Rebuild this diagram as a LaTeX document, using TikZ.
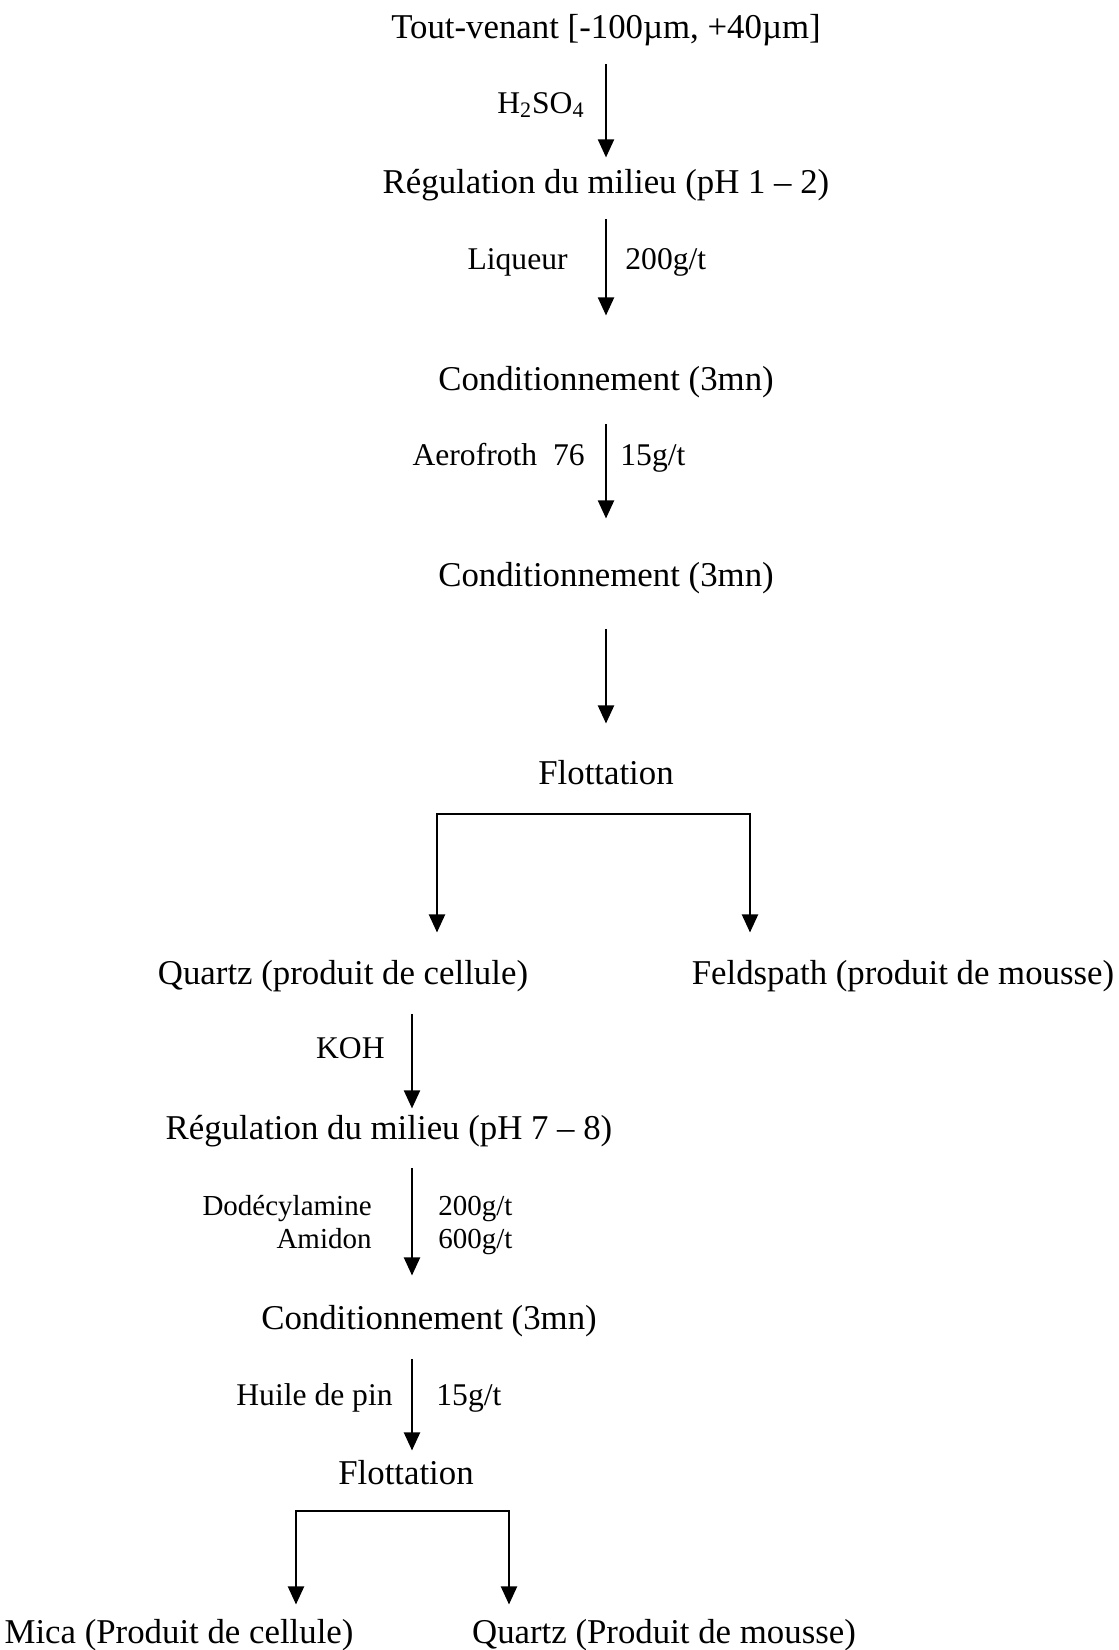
\documentclass[tikz,border=0pt]{standalone}
\usepackage{fontspec}
\setmainfont{Liberation Serif}
\usetikzlibrary{arrows.meta}

\begin{document}
\begin{tikzpicture}[x=0.5pt,y=-0.5pt,
  stage/.style={inner sep=0pt, anchor=base, font=\fontsize{17.4}{20}\selectfont},
  dose/.style={inner sep=0pt, font=\fontsize{15.8}{18}\selectfont},
  small dose/.style={inner sep=0pt, font=\fontsize{14.5}{17}\selectfont},
  flow/.style={line width=1pt, -{Triangle[length=9pt,width=8pt]}},
  split/.style={line width=1pt, {Triangle[length=9pt,width=8pt]}-{Triangle[length=9pt,width=8pt]}}]
%\draw[help lines] (0,0) grid[step=100] (1119,1650);
\useasboundingbox (0,0) rectangle (1119,1650);

\node[stage] (tv) at (606,38) {Tout-venant [-100µm, +40µm]};
\node[stage] (reg1) at (606,193) {Régulation du milieu (pH 1 – 2)};
\node[stage] (cond1) at (606,390) {Conditionnement (3mn)};
\node[stage] (cond2) at (606,586) {Conditionnement (3mn)};
\node[stage] (flot1) at (606,784) {Flottation};
\node[stage] (qzc) at (343,984) {Quartz (produit de cellule)};
\node[stage] (fsm) at (903,984) {Feldspath (produit de mousse)};
\node[stage] (reg2) at (389,1139) {Régulation du milieu (pH 7 – 8)};
\node[stage] (cond3) at (429,1329) {Conditionnement (3mn)};
\node[stage] (flot2) at (406,1484) {Flottation};
\node[stage] (mica) at (179,1643) {Mica (Produit de cellule)};
\node[stage] (qzm) at (664,1643) {Quartz (Produit de mousse)};

% reactifs
\node[dose,anchor=base east] (h2so4) at (585,113) {H\textsubscript{2}SO\textsubscript{4}};
\node[dose,anchor=base east] (liq) at (568,269) {Liqueur};
\node[dose,anchor=base west] (liqd) at (625,269) {200g/t};
\node[dose,anchor=base east] (aero) at (585,465) {Aerofroth\ \ 76};
\node[dose,anchor=base west] (aerod) at (620,465) {15g/t};
\node[dose,anchor=base east] (koh) at (385,1058) {KOH};
\node[small dose,anchor=base east] (dod) at (372,1215) {Dodécylamine};
\node[small dose,anchor=base east] (ami) at (372,1248) {Amidon};
\node[small dose,anchor=base west] (dodd) at (438,1215) {200g/t};
\node[small dose,anchor=base west] (amid) at (438,1248) {600g/t};
\node[dose,anchor=base east] (huile) at (393,1405) {Huile de pin};
\node[dose,anchor=base west] (huiled) at (436,1405) {15g/t};

\coordinate (col) at (412,0);
\coordinate (b1l) at (437,814);
\coordinate (b1r) at (750,814);
\coordinate (b2l) at (296,1511);
\coordinate (b2r) at (509,1511);

\draw[flow,shorten <=9pt,shorten >=5.5pt] (tv.south) -- (reg1.north);
\draw[flow,shorten <=9pt,shorten >=25pt] (reg1.south) -- (cond1.north);
\draw[flow,shorten <=13pt,shorten >=21.5pt] (cond1.south) -- (cond2.north);
\draw[flow,shorten <=17.5pt,shorten >=18pt] (cond2.south) -- (flot1.north);
\draw[split,shorten <=13.5pt,shorten >=13.5pt] (b1l |- qzc.north) -- (b1l) -- (b1r) -- (b1r |- fsm.north);

\draw[flow,shorten <=11pt,shorten >=3pt] (qzc.south -| col) -- (reg2.north -| col);
\draw[flow,shorten <=10.5pt,shorten >=14.5pt] (reg2.south -| col) -- (cond3.north -| col);
\draw[flow,shorten <=11pt,shorten >=4.5pt] (cond3.south -| col) -- (flot2.north -| col);
\draw[split,shorten <=7pt,shorten >=7pt] (b2l |- mica.north) -- (b2l) -- (b2r) -- (b2r |- qzm.north);
\end{tikzpicture}
\end{document}
